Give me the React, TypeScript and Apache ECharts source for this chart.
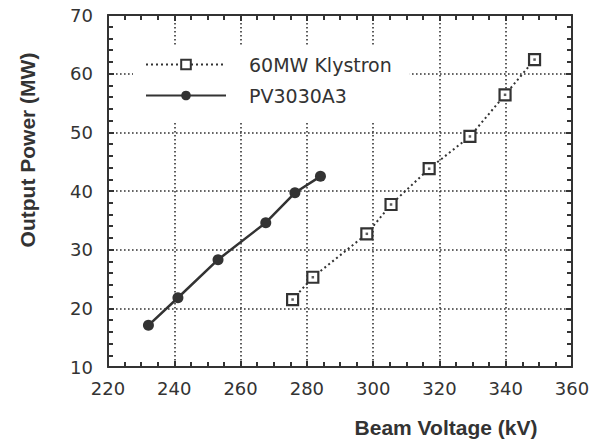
import React, { useEffect, useRef } from "react";
import * as echarts from "echarts";

const xTicks = [220, 240, 260, 280, 300, 320, 340, 360];
const yTicks = [10, 20, 30, 40, 50, 60, 70];

const klystronVoltage = [275.7, 281.8, 298.1, 305.4, 316.9, 329.2, 339.8, 348.7];
const klystronPower = [21.5, 25.3, 32.7, 37.7, 43.8, 49.3, 56.4, 62.4];

const pvVoltage = [232.2, 241.1, 253.2, 267.6, 276.4, 284.1];
const pvPower = [17.1, 21.8, 28.3, 34.6, 39.7, 42.5];

const seriesNames = ["60MW Klystron", "PV3030A3"];
const xTitle = "Beam Voltage (kV)";
const yTitle = "Output Power (MW)";

const INK = "#333";
const TICK_FONT = "DejaVu Sans";

export default function App() {
  const ref = useRef<HTMLDivElement>(null);
  useEffect(() => {
    if (!ref.current) return;
    const chart = echarts.init(ref.current, undefined, { renderer: "svg" });
    const xMin = xTicks[0];
    const xMax = xTicks[xTicks.length - 1];
    const yMin = yTicks[0];
    const yMax = yTicks[yTicks.length - 1];
    const klyData = klystronVoltage.map((v, i) => [v, klystronPower[i]]);
    const pvData = pvVoltage.map((v, i) => [v, pvPower[i]]);
    const option: any = {
      animation: false,
      backgroundColor: "#fff",
      grid: { left: 108, right: 30, top: 15, bottom: 72, containLabel: false },
      xAxis: [
        {
          type: "value", min: xMin, max: xMax, interval: 20, position: "bottom",
          axisLine: { show: true, onZero: false, lineStyle: { color: INK, width: 2 } },
          axisTick: { show: true, inside: true, length: 6, lineStyle: { color: INK, width: 2 } },
          minorTick: { show: true, splitNumber: 4, length: 5, lineStyle: { color: INK, width: 2 } },
          axisLabel: { show: true, color: INK, fontSize: 18, fontFamily: TICK_FONT, margin: 12 },
          splitLine: { show: true, lineStyle: { color: "#333", width: 1.6, type: [1.6, 2.4] } },
        },
        {
          type: "value", min: xMin, max: xMax, interval: 20, position: "top",
          axisLine: { show: true, lineStyle: { color: INK, width: 2 } },
          axisTick: { show: true, inside: true, length: 6, lineStyle: { color: INK, width: 2 } },
          minorTick: { show: true, splitNumber: 4, length: 5, lineStyle: { color: INK, width: 2 } },
          axisLabel: { show: false },
          splitLine: { show: false },
        },
      ],
      yAxis: [
        {
          type: "value", min: yMin, max: yMax, interval: 10, position: "left",
          axisLine: { show: true, onZero: false, lineStyle: { color: INK, width: 2 } },
          axisTick: { show: true, inside: true, length: 6, lineStyle: { color: INK, width: 2 } },
          minorTick: { show: true, splitNumber: 5, length: 5, lineStyle: { color: INK, width: 2 } },
          axisLabel: { show: true, color: INK, fontSize: 18, fontFamily: TICK_FONT, margin: 15 },
          splitLine: { show: true, lineStyle: { color: "#333", width: 1.6, type: [1.6, 2.4] } },
        },
        {
          type: "value", min: yMin, max: yMax, interval: 10, position: "right",
          axisLine: { show: true, lineStyle: { color: INK, width: 2 } },
          axisTick: { show: true, inside: true, length: 6, lineStyle: { color: INK, width: 2 } },
          minorTick: { show: true, splitNumber: 5, length: 5, lineStyle: { color: INK, width: 2 } },
          axisLabel: { show: false },
          splitLine: { show: false },
        },
      ],
      legend: {
        show: true,
        orient: "vertical",
        left: 133,
        top: 45,
        data: seriesNames,
        backgroundColor: "#fff",
        padding: [10, 18, 17, 12],
        itemWidth: 80,
        itemHeight: 12,
        itemGap: 12,
        textStyle: { color: INK, fontSize: 19, fontFamily: TICK_FONT, padding: [0, 0, 0, 18] },
        z: 10,
      },
      graphic: [
        {
          type: "text",
          x: 27,
          y: 150,
          rotation: Math.PI / 2,
          style: {
            text: yTitle,
            fill: INK,
            font: "bold 21px 'Liberation Sans', Arial, sans-serif",
            textAlign: "center",
            textVerticalAlign: "middle",
          },
        },
        {
          type: "text",
          x: 446,
          y: 427,
          style: {
            text: xTitle,
            fill: INK,
            font: "bold 21px 'Liberation Sans', Arial, sans-serif",
            textAlign: "center",
            textVerticalAlign: "middle",
          },
        },
      ],
      series: [
        {
          name: seriesNames[0],
          type: "line",
          data: klyData,
          symbol: "rect",
          symbolSize: 11,
          showAllSymbol: true,
          itemStyle: { color: "#fff", borderColor: INK, borderWidth: 2.2 },
          lineStyle: { color: INK, width: 2, type: [2, 3] },
          z: 3,
        },
        {
          name: "klystron-center",
          type: "scatter",
          data: klyData,
          symbol: "rect",
          symbolSize: 2.5,
          itemStyle: { color: INK },
          silent: true,
          z: 4,
        },
        {
          name: seriesNames[1],
          type: "line",
          data: pvData,
          symbol: "circle",
          symbolSize: 11,
          showAllSymbol: true,
          itemStyle: { color: INK },
          lineStyle: { color: INK, width: 2.5 },
          z: 3,
        },
      ],
    };
    chart.setOption(option);
    return () => chart.dispose();
  }, []);
  return <div ref={ref} style={{ width: 602, height: 439, position: "absolute", left: 0, top: 0 }} />;
}
